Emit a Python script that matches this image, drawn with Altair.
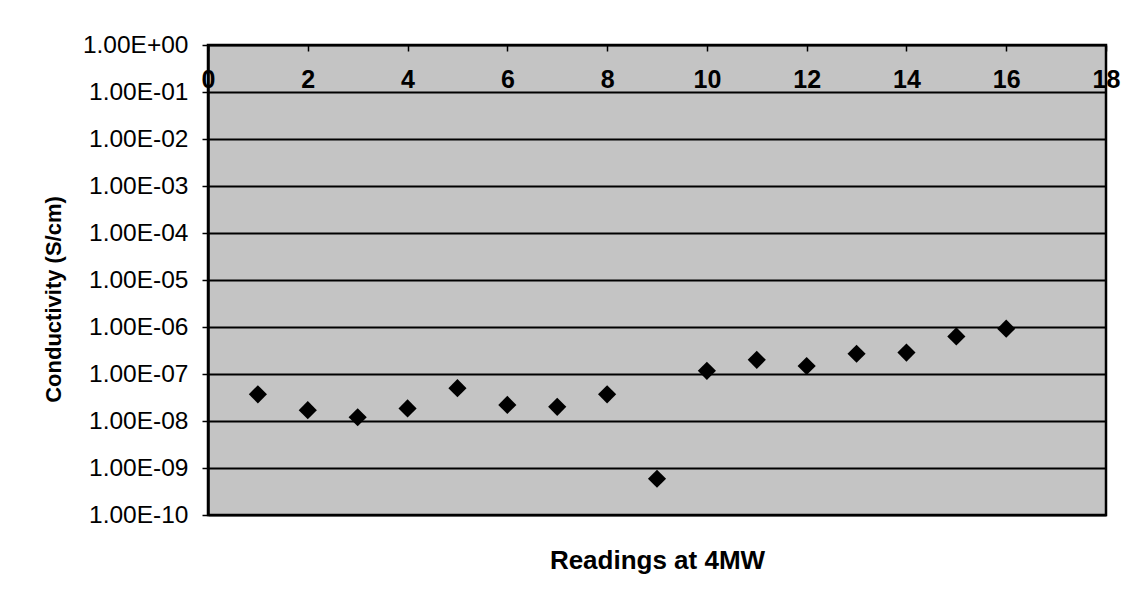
import json
import altair as alt
import pandas as pd

# Data
readings = [1, 2, 3, 4, 5, 6, 7, 8, 9, 10, 11, 12, 13, 14, 15, 16]
conductivity = [3.7e-8, 1.7e-8, 1.2e-8, 1.85e-8, 5.0e-8, 2.2e-8, 2.0e-8, 3.7e-8,
                5.9e-10, 1.17e-7, 2.0e-7, 1.48e-7, 2.7e-7, 2.85e-7, 6.3e-7, 9.2e-7]
y_ticks = [1e-10, 1e-9, 1e-8, 1e-7, 1e-6, 1e-5, 1e-4, 1e-3, 1e-2, 1e-1, 1e0]
y_tick_labels = ["1.00E-10", "1.00E-09", "1.00E-08", "1.00E-07", "1.00E-06",
                 "1.00E-05", "1.00E-04", "1.00E-03", "1.00E-02", "1.00E-01",
                 "1.00E+00"]
x_ticks = [0, 2, 4, 6, 8, 10, 12, 14, 16, 18]

df = pd.DataFrame({"reading": readings, "cond": conductivity})

FONT = "Liberation Sans"
W, H = 898, 470

y_enc = alt.Y(
    "cond:Q",
    scale=alt.Scale(type="log", domain=[1e-10, 1], nice=False),
    axis=alt.Axis(
        values=y_ticks,
        labelExpr=json.dumps(y_tick_labels) + "[round(log(datum.value)/LN10) + 10]",
        title="Conductivity (S/cm)",
        titleFont=FONT, titleFontSize=22, titleFontWeight="bold", titleColor="black",
        titleX=-143, titleY=254,
        labelFont=FONT, labelFontSize=24.5, labelColor="black", labelPadding=14,
        tickColor="black", tickSize=6, tickWidth=1.5,
        domainColor="black", domainWidth=2.5,
        grid=True, gridColor="black", gridWidth=2, gridOpacity=1,
    ),
)

x_scale = alt.Scale(domain=[0, 18], nice=False)

points = alt.Chart(df).mark_point(
    shape="diamond", filled=True, color="black", size=330, opacity=1
).encode(
    x=alt.X("reading:Q", scale=x_scale, axis=alt.Axis(
        title="Readings at 4MW", orient="bottom", labels=False, ticks=False, domain=False,
        grid=False, titleFont=FONT, titleFontSize=26, titleFontWeight="bold",
        titleColor="black", titleBaseline="alphabetic", titleY=53)),
    y=y_enc,
)

top_labels = alt.Chart(df).mark_point(opacity=0).encode(
    x=alt.X("reading:Q", scale=x_scale, axis=alt.Axis(
        title=None, orient="top", offset=-H / 10, values=x_ticks, format="d",
        ticks=False, domain=False, grid=False, labelFlush=False, labelOverlap=False,
        labelFont=FONT, labelFontSize=25, labelFontWeight="bold", labelColor="black",
        labelPadding=0)),
    y=y_enc,
)

top_ticks = alt.Chart(df).mark_point(opacity=0).encode(
    x=alt.X("reading:Q", scale=x_scale, axis=alt.Axis(
        title=None, orient="top", offset=-6, values=x_ticks, labels=False,
        domain=False, grid=False, ticks=True, tickSize=6, tickColor="black",
        tickWidth=1.5)),
    y=y_enc,
)

chart = alt.layer(top_labels, top_ticks, points).resolve_axis(x="independent").properties(
    width=W, height=H,
    autosize=alt.AutoSizeParams(type="none"),
    padding={"left": 200, "top": 37, "right": 20, "bottom": 80},
    background="white",
).configure_view(
    fill="#c4c4c4", stroke="black", strokeWidth=2.5
)

chart.save("out.html", embed_options={"renderer": "svg", "actions": False})
